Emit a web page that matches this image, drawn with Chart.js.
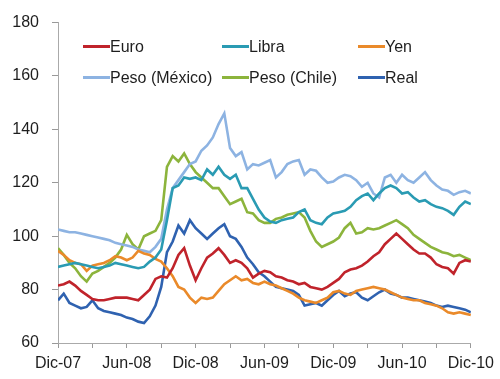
<!DOCTYPE html>
<html lang="es">
<head>
<meta charset="utf-8">
<title>Tipos de cambio</title>
<script src="https://cdn.jsdelivr.net/npm/chart.js@4"></script>
<style>
  html, body { margin: 0; padding: 0; background: #fff; }
  #wrap { position: relative; width: 500px; height: 379px; }
  #grafico { position: absolute; left: 0; top: 0; }
  .ley { position: absolute; font: 16px "Liberation Sans", Arial, sans-serif;
         color: #1e1e1e; white-space: nowrap; line-height: 22px; }
  .ley i { display: inline-block; width: 27px; height: 3px; vertical-align: middle; margin-top: -2px; }
</style>
</head>
<body>
<div id="wrap">
  <canvas id="grafico" width="500" height="379"></canvas>
</div>
<script>
/* Índices de tipo de cambio, dic-07 = base. Datos quincenales (dic-07 .. dic-10). */
const etiquetasX = ['Dic-07', 'Jun-08', 'Dic-08', 'Jun-09', 'Dic-09', 'Jun-10', 'Dic-10'];
const ticksY = [60, 80, 100, 120, 140, 160, 180];

const euro = [81.5, 82, 83, 81.5, 79.5, 78, 76.5, 76, 76, 76.5, 77, 77, 77, 76.5, 76, 78, 80, 84, 85, 84.5,
  88, 93, 95.5, 89, 83.5, 88, 92, 93.5, 95.5, 93, 90, 91, 90, 88, 84.5, 86, 87, 86.5, 85, 84.5,
  83.5, 83, 82, 82.5, 81, 80.5, 80, 81, 82.5, 84, 86.5, 87.5, 88, 89, 90.5, 92.5, 94, 97, 99, 101,
  99, 97, 95, 93.5, 93.5, 92, 89.5, 88.5, 88, 86, 90, 91, 90.5];
const libra = [88.5, 89, 89.5, 90, 89.5, 89, 88.5, 88, 88.5, 89, 90, 89.5, 89, 88.5, 88, 88.5, 90.5, 92, 95, 106,
  118, 119, 122, 121.5, 122, 121, 125, 123, 126, 123, 121.5, 123, 118, 118, 114, 110, 107, 105.5, 105, 106,
  106.5, 107, 109, 110, 106, 105, 104.5, 107, 108.5, 109, 109.5, 111, 113.5, 115, 116, 113.5, 116, 118, 119, 118,
  116, 116.5, 114.5, 113, 113.5, 112, 111, 110.5, 109.5, 108, 111, 113, 112];
const yen = [94.5, 93, 91, 90, 89.5, 87, 89, 89.5, 90, 91, 92.5, 92, 91, 92, 94.5, 93.5, 93, 91.5, 90.5, 88,
  85, 81, 80, 77, 75, 77, 76.5, 77, 79.5, 82, 83.5, 85, 83.5, 84, 82.5, 82, 83, 82, 81.5, 80.5,
  79.5, 78.5, 77, 76, 75.5, 75, 76, 77, 79, 79.5, 78.5, 78, 79.5, 80, 80.5, 81, 80.5, 80, 79, 78,
  77, 76.5, 76, 76, 75, 74.5, 74, 73, 71.5, 71, 71.5, 71, 70.5];
const pesoMexico = [102.5, 102, 101.5, 101.5, 101, 100.5, 100, 99.5, 99, 98.5, 97.5, 97, 96.5, 96, 95, 94.5, 94, 96, 99, 110,
  118, 121, 124, 127, 128, 132, 134, 137, 142, 146, 133, 130, 131.5, 125, 127, 126.5, 127.5, 128.5, 122, 124,
  127, 128, 128.5, 123, 125, 124.5, 122, 120, 120.5, 122, 123, 122.5, 121, 118.5, 120, 116, 114.5, 122, 123, 120,
  123, 121, 120, 122, 124, 121, 119, 117.5, 117, 115.5, 116.5, 117, 116];
const pesoChile = [95.5, 93, 90, 88, 85, 83, 86, 87, 88.5, 90, 92, 95, 100.5, 97, 95, 100, 101, 102, 106, 126,
  130, 128, 131, 127, 124, 122, 120, 118, 118, 115, 112, 113, 114, 109, 108.5, 106, 105, 105, 106.5, 107,
  108, 108.5, 109, 107, 102, 98, 96, 97, 98, 99.5, 103, 105, 101, 101.5, 103, 102.5, 103, 104, 105, 106,
  104.5, 103, 100.5, 99, 97.5, 96, 95, 94, 93.5, 92.5, 93, 92, 91];
const real = [76, 78.5, 75, 74, 73, 73.5, 76, 73, 72, 71.5, 71, 70.5, 69.5, 69, 68, 67.5, 70, 74, 81, 94,
  98, 104, 101, 106, 103, 101, 99, 101, 103, 104.5, 100, 99, 96, 92, 89.5, 86.5, 85, 83, 81, 80.5,
  80, 79.5, 78, 74, 74.5, 75, 74, 76, 78, 79.5, 77.5, 78.5, 79, 77, 76, 77.5, 79, 80, 78.5, 78,
  77, 77, 76.5, 76, 75.5, 75, 74, 73.5, 74, 73.5, 73, 72.5, 71.5];

const series = [
  { nombre: 'Euro',          datos: euro,       color: '#c0232b' },
  { nombre: 'Libra',         datos: libra,      color: '#2a9bb3' },
  { nombre: 'Yen',           datos: yen,        color: '#ea8a2a' },
  { nombre: 'Peso (México)', datos: pesoMexico, color: '#8db3e2' },
  { nombre: 'Peso (Chile)',  datos: pesoChile,  color: '#8cb43c' },
  { nombre: 'Real',          datos: real,       color: '#2f62b0' }
];

Chart.defaults.font.family = '"Liberation Sans", Arial, sans-serif';
Chart.defaults.color = '#1e1e1e';
Chart.defaults.animation = false;

new Chart(document.getElementById('grafico'), {
  type: 'line',
  data: {
    datasets: series.map((s) => ({
      label: s.nombre,
      data: s.datos.map((y, i) => ({ x: i, y })),
      borderColor: s.color, borderWidth: 2.6, pointRadius: 0, tension: 0, fill: false
    }))
  },
  options: {
    responsive: false,
    layout: { padding: { top: 19, right: 27, left: 0, bottom: 0 } },
    plugins: { legend: { display: false }, tooltip: { enabled: false } },
    scales: {
      x: {
        type: 'linear', min: 0, max: 72,
        afterFit: (s) => { s.height = 36; },
        grid: { drawOnChartArea: false, drawTicks: true, tickLength: 5, color: '#999' },
        border: { color: '#aaa', width: 1 },
        ticks: { stepSize: 6, autoSkip: false, maxRotation: 0, padding: 6, font: { size: 16 },
          callback: (v) => (v % 12 === 0 ? etiquetasX[v / 12] : '') }
      },
      y: {
        min: 60, max: 180,
        afterFit: (s) => { s.width = 58; },
        afterBuildTicks: (s) => { s.ticks = ticksY.map((v) => ({ value: v })); },
        grid: { drawOnChartArea: false, drawTicks: true, tickLength: 6, color: '#999' },
        border: { color: '#aaa', width: 1 },
        ticks: { padding: 13, font: { size: 16 } }
      }
    }
  }
});

/* leyenda en 3 columnas dentro del área del gráfico */
const colX = [83, 222, 358], filaY = [36, 67];
const wrap = document.getElementById('wrap');
series.forEach((s, k) => {
  const d = document.createElement('div');
  d.className = 'ley';
  d.style.left = colX[k % 3] + 'px';
  d.style.top = filaY[Math.floor(k / 3)] + 'px';
  d.innerHTML = '<i style="background:' + s.color + '"></i>' + s.nombre;
  wrap.appendChild(d);
});
</script>
</body>
</html>
